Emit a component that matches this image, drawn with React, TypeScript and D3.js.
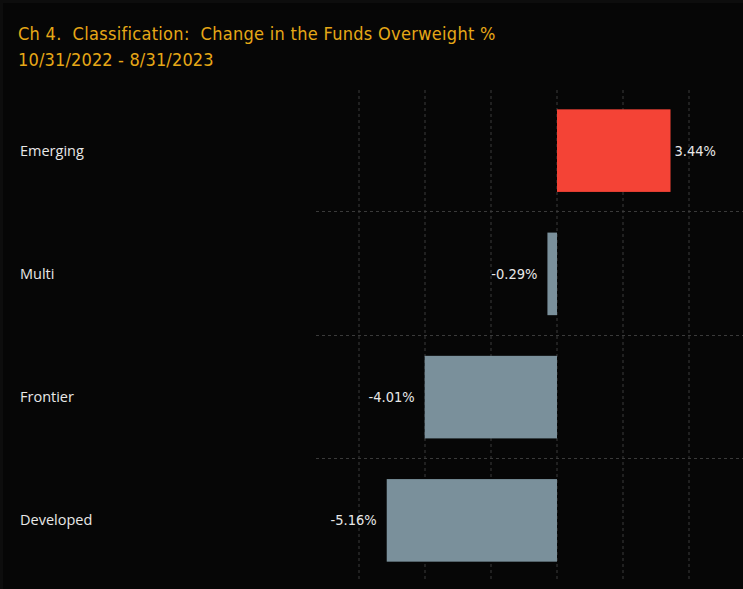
import React from 'react';
import * as d3 from 'd3';

const categories = ['Emerging', 'Multi', 'Frontier', 'Developed'];
const values = [3.44, -0.29, -4.01, -5.16];
const xTicks = [-6, -4, -2, 0, 2, 4];
const titleLines = ['Ch 4.  Classification:  Change in the Funds Overweight %', '10/31/2022 - 8/31/2023'];

export default function App() {
  const width = 743;
  const height = 589;

  const x = d3.scaleLinear().domain([-6, 4]).range([359, 689]);
  const y = d3.scaleBand().domain(categories).range([89, 582]).paddingInner(0.33).paddingOuter(0.165);
  const step = y.step();

  const fontTitle = "'DejaVu Sans Condensed', 'Liberation Sans Narrow', sans-serif";
  const fontText = "'Open Sans', 'DejaVu Sans', sans-serif";

  return (
    <div style={{ position: 'fixed', left: 0, top: 0, width, height, background: '#060606' }}>
      <svg width={width} height={height} style={{ display: 'block' }}>
        <rect x={0} y={0} width={width} height={height} fill="#0d0d0d" />
        <rect x={3} y={3} width={width - 3} height={height - 3} fill="#060606" />

        {titleLines.map((t, i) => (
          <text key={i} x={18} y={40 + i * 26} fill="#e6a817" fontSize={18} fontFamily={fontTitle}
            letterSpacing={i === 0 ? 0.3 : 0.15}
            style={{ whiteSpace: 'pre' }}>
            {t}
          </text>
        ))}

        {/* vertical grid */}
        {xTicks.map(t => (
          <line key={t} x1={x(t)} x2={x(t)} y1={90} y2={580}
            stroke="#3a3a3a" strokeWidth={1} strokeDasharray="3,3" />
        ))}

        {/* horizontal separators */}
        {categories.slice(1).map(c => {
          const yy = Math.round((y(c) as number) - (step - y.bandwidth()) / 2) - 0.5;
          return (
            <line key={c} x1={316} x2={743} y1={yy} y2={yy}
              stroke="#3a3a3a" strokeWidth={1} strokeDasharray="3,3" />
          );
        })}

        {categories.map((c, i) => {
          const v = values[i];
          const y0 = y(c) as number;
          const bw = y.bandwidth();
          const x0 = x(Math.min(0, v));
          const x1 = x(Math.max(0, v));
          const cy = y0 + bw / 2;
          return (
            <g key={c}>
              <rect x={x0} y={y0} width={x1 - x0} height={bw} fill={v >= 0 ? '#f44336' : '#7a909b'} />
              <text x={20} y={cy} dy="0.35em" fill="#e8e8e8" fontSize={14.5} fontFamily={fontText}>{c}</text>
              <text
                x={v >= 0 ? x1 + 4 : x0 - 10}
                y={cy}
                dy="0.35em"
                textAnchor={v >= 0 ? 'start' : 'end'}
                fill="#e8e8e8"
                fontSize={14.5}
                fontFamily={fontTitle}
              >
                {v.toFixed(2) + '%'}
              </text>
            </g>
          );
        })}
      </svg>
    </div>
  );
}
